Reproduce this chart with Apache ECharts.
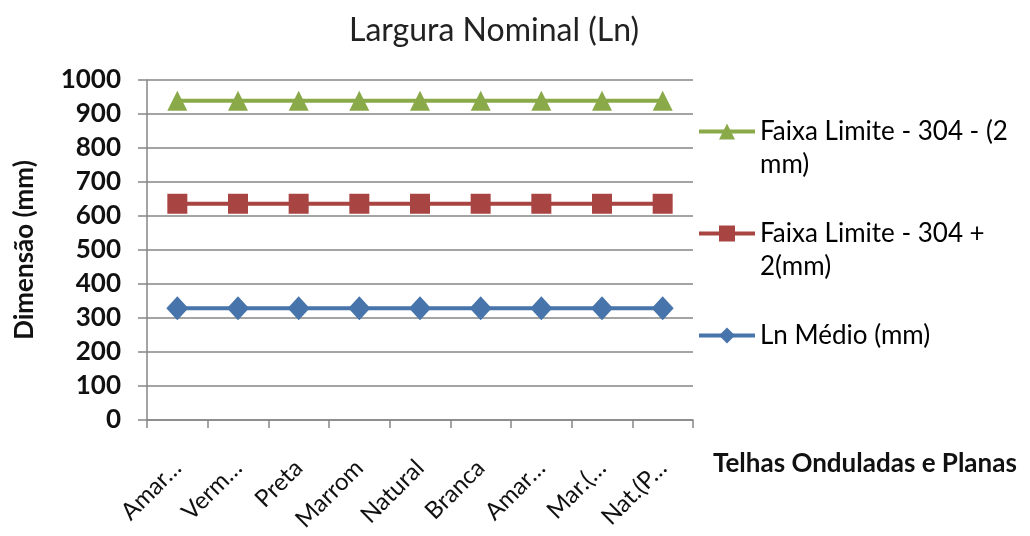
<!DOCTYPE html>
<html>
<head>
<meta charset="utf-8">
<script src="https://cdn.jsdelivr.net/npm/echarts@6/dist/echarts.min.js"></script>
<style>html,body{margin:0;padding:0;background:#fff}#c{width:1030px;height:536px}</style>
</head>
<body>
<div id="c"></div>
<script>
const categories = ['Amar…', 'Verm…', 'Preta', 'Marrom', 'Natural', 'Branca', 'Amar…', 'Mar.(…', 'Nat.(P…'];
const faixaMenos = [939, 939, 939, 939, 939, 939, 939, 939, 939];
const faixaMais = [636, 636, 636, 636, 636, 636, 636, 636, 636];
const lnMedio = [329, 329, 329, 329, 329, 329, 329, 329, 329];
const yTicks = [0, 100, 200, 300, 400, 500, 600, 700, 800, 900, 1000];

const FONT = 'Lato, "Open Sans", sans-serif';
const chart = echarts.init(document.getElementById('c'));
chart.setOption({
  animation: false,
  backgroundColor: '#fff',
  title: {
    text: 'Largura Nominal (Ln)',
    left: 344, top: 10,
    textStyle: {fontFamily: FONT, fontSize: 32, fontWeight: 'normal', color: '#222'}
  },
  grid: {left: 147, right: 337, top: 80, bottom: 116},
  legend: {
    orient: 'vertical',
    left: 692, top: 77,
    itemWidth: 56, itemHeight: 20, itemGap: 3,
    lineStyle: {width: 4},
    data: ['Faixa Limite - 304 - (2 mm)', 'Faixa Limite - 304 + 2(mm)', 'Ln Médio (mm)'],
    formatter: function (n) {
      if (n === 'Faixa Limite - 304 - (2 mm)') return '\nFaixa Limite - 304 - (2\nmm)';
      if (n === 'Faixa Limite - 304 + 2(mm)') return '\nFaixa Limite - 304 +\n2(mm)';
      return '\nLn Médio (mm)\n';
    },
    textStyle: {fontFamily: FONT, fontSize: 26, fontWeight: 'normal', color: '#000', lineHeight: 33}
  },
  xAxis: {
    type: 'category',
    data: categories,
    boundaryGap: true,
    name: 'Telhas Onduladas e Planas',
    nameLocation: 'end',
    nameGap: 20,
    nameTextStyle: {fontFamily: FONT, fontSize: 26, fontWeight: 'bold', color: '#111', align: 'left', verticalAlign: 'top', padding: [31, 0, 0, 0]},
    axisLine: {lineStyle: {color: '#868686', width: 1.5}},
    axisTick: {show: true, length: 8, lineStyle: {color: '#868686', width: 1.5}},
    axisLabel: {interval: 0, rotate: 45, margin: 44, fontFamily: FONT, fontSize: 24, color: '#111'},
    splitLine: {show: false}
  },
  yAxis: {
    type: 'value',
    min: 0, max: 1000, interval: 100,
    name: 'Dimensão (mm)',
    nameLocation: 'middle',
    nameGap: 109,
    nameRotate: 90,
    nameTextStyle: {fontFamily: FONT, fontSize: 26, fontWeight: 'bold', color: '#111'},
    axisLine: {show: true, lineStyle: {color: '#868686', width: 1.5}},
    axisTick: {show: true, length: 9, lineStyle: {color: '#868686', width: 1.5}},
    axisLabel: {margin: 26, fontFamily: FONT, fontSize: 26, fontWeight: 'bold', color: '#111',
      formatter: function (v) { return yTicks.indexOf(v) >= 0 ? String(v) : ''; }},
    splitLine: {show: true, lineStyle: {color: '#868686', width: 1.5}}
  },
  series: [
    {name: 'Faixa Limite - 304 - (2 mm)', type: 'line', data: faixaMenos, symbol: 'triangle', symbolSize: 20,
     itemStyle: {color: '#8AAA4A'}, lineStyle: {color: '#8AAA4A', width: 4}, z: 3},
    {name: 'Faixa Limite - 304 + 2(mm)', type: 'line', data: faixaMais, symbol: 'rect', symbolSize: 20,
     itemStyle: {color: '#A84442'}, lineStyle: {color: '#A84442', width: 4}, z: 3},
    {name: 'Ln Médio (mm)', type: 'line', data: lnMedio, symbol: 'diamond', symbolSize: [22, 24],
     itemStyle: {color: '#4674AB'}, lineStyle: {color: '#4674AB', width: 4}, z: 3}
  ]
});
</script>
</body>
</html>
